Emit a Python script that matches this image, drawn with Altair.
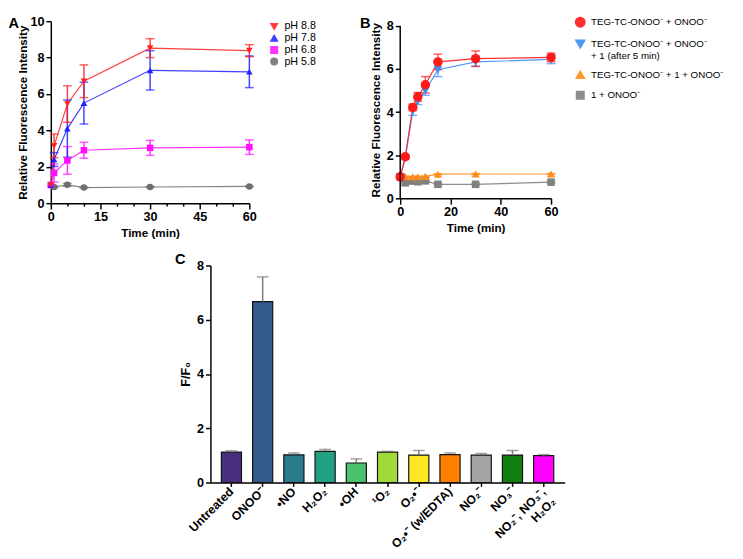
import altair as alt
import pandas as pd

FONT = "Liberation Sans"

# ---------------- Panel A data ----------------
a_time = [0, 1, 5, 10, 30, 60]
a_series = ["pH 8.8", "pH 7.8", "pH 6.8", "pH 5.8"]
a_ph88 = [1.00, 3.15, 5.45, 6.70, 8.52, 8.38]
a_ph88_sd = [0.00, 0.65, 1.00, 0.90, 0.52, 0.33]
a_ph78 = [1.00, 2.40, 4.10, 5.50, 7.30, 7.22]
a_ph78_sd = [0.00, 0.38, 1.57, 1.15, 1.08, 0.87]
a_ph68 = [1.00, 1.66, 2.35, 2.91, 3.04, 3.08]
a_ph68_sd = [0.00, 0.50, 0.76, 0.44, 0.41, 0.40]
a_ph58 = [1.00, 0.89, 1.01, 0.86, 0.89, 0.92]
a_ph58_sd = [0.00, 0.04, 0.08, 0.03, 0.03, 0.03]
a_colors = ["#FF1F1F", "#1F1FFF", "#FF10FF", "#6E6E6E"]
a_shapes = ["triangle-down", "triangle-up", "square", "circle"]

# ---------------- Panel B data ----------------
b_time = [0, 2, 5, 7, 10, 15, 30, 60]
b_series = [
    "TEG-TC-ONOO⁻  +  ONOO⁻",
    "TEG-TC-ONOO⁻  +  ONOO⁻\n+  1 (after 5 min)",
    "TEG-TC-ONOO⁻  +  1  +  ONOO⁻",
    "1 + ONOO⁻",
]
b_red = [1.00, 1.93, 4.22, 4.71, 5.27, 6.33, 6.48, 6.54]
b_red_sd = [0.00, 0.05, 0.15, 0.20, 0.38, 0.36, 0.36, 0.20]
b_blue = [1.00, 1.85, 4.05, 4.50, 5.00, 5.97, 6.33, 6.45]
b_blue_sd = [0.00, 0.05, 0.20, 0.15, 0.22, 0.32, 0.20, 0.20]
b_orange = [1.00, 1.02, 1.00, 1.00, 1.02, 1.12, 1.13, 1.13]
b_orange_sd = [0.00, 0.02, 0.02, 0.02, 0.02, 0.02, 0.02, 0.02]
b_gray = [1.00, 0.72, 0.80, 0.77, 0.81, 0.65, 0.65, 0.75]
b_gray_sd = [0.00, 0.05, 0.05, 0.05, 0.05, 0.03, 0.03, 0.05]
b_colors = ["#FF1A1A", "#3D8EF5", "#FF8C1A", "#808080"]
b_shapes = ["circle", "triangle-down", "triangle-up", "square"]
b_sizes = [95, 60, 70, 95]

# ---------------- Panel C data ----------------
c_labels = ["Untreated", "ONOO⁻", "•NO", "H₂O₂", "•OH", "¹O₂", "O₂•⁻",
            "O₂•⁻ (w/EDTA)", "NO₂⁻", "NO₃⁻", "NO₂⁻, NO₃⁻,\nH₂O₂"]
c_mean = [1.12, 6.67, 1.02, 1.15, 0.72, 1.12, 1.01, 1.03, 1.01, 1.01, 0.99]
c_err = [0.05, 0.91, 0.07, 0.07, 0.15, 0.03, 0.17, 0.06, 0.06, 0.17, 0.04]
c_colors = ["#472F7D", "#355A8C", "#287C8E", "#21A285", "#4BC16D", "#A0DA39",
            "#FDE725", "#FF8000", "#A5A5A8", "#0F7F0F", "#FF00FF"]

panel_letters = ["A", "B", "C"]


def long_table(series, times, means, sds):
    rows = []
    for s, m_list, sd_list in zip(series, means, sds):
        for t, m, sd in zip(times, m_list, sd_list):
            rows.append({"series": s, "time": t, "mean": m, "lo": m - sd, "hi": m + sd})
    return pd.DataFrame(rows)


def letter_mark(letter, dx, dy):
    return alt.Chart(pd.DataFrame({"letter": [letter]})).mark_text(
        font=FONT, fontSize=15, fontWeight="bold", color="black",
        align="center", baseline="middle").encode(
        text="letter:N", x=alt.value(dx), y=alt.value(dy))


def indep(c):
    return c.resolve_scale(color="independent", shape="independent", size="independent",
                           x="independent", y="independent")


# ================= Panel A =================
a_df = long_table(a_series[::-1], a_time,
                  [a_ph58, a_ph68, a_ph78, a_ph88],
                  [a_ph58_sd, a_ph68_sd, a_ph78_sd, a_ph88_sd])

a_x = alt.X("time:Q", scale=alt.Scale(domain=[0, 60], nice=False),
            axis=alt.Axis(values=list(range(0, 61, 5)),
                          labelExpr="datum.value % 15 === 0 ? datum.label : ''",
                          tickSize={"condition": {"test": "datum.value % 15 === 0", "value": 6}, "value": 3},
                          labelOverlap=False, title="Time (min)", titlePadding=4))


def a_y(field):
    return alt.Y(field, scale=alt.Scale(domain=[0, 10], nice=False),
                 axis=alt.Axis(values=[0, 2, 4, 6, 8, 10],
                               title="Relative Fluorescence Intensity", titlePadding=1))


a_legend = alt.Legend(title=None, orient="none", legendX=224, legendY=0,
                      labelFontSize=11, labelFont=FONT, symbolSize=45,
                      rowPadding=-2, padding=0, labelOffset=5)
a_color = alt.Color("series:N", scale=alt.Scale(domain=a_series, range=a_colors), legend=a_legend)
a_shape = alt.Shape("series:N", scale=alt.Scale(domain=a_series, range=a_shapes), legend=a_legend)

a_base = alt.Chart(a_df)
a_err_base = a_base.transform_filter("datum.hi > datum.lo")
a_lines = a_base.mark_line(strokeWidth=1.2, opacity=0.85).encode(x=a_x, y=a_y("mean:Q"), color=a_color)
a_err = a_err_base.mark_rule(strokeWidth=1.5, opacity=0.85).encode(x=a_x, y=a_y("lo:Q"), y2="hi:Q", color=a_color)
a_cap_hi = a_err_base.mark_tick(orient="horizontal", size=9, thickness=1.5).encode(
    x=a_x, y=a_y("hi:Q"), color=a_color)
a_cap_lo = a_err_base.mark_tick(orient="horizontal", size=9, thickness=1.5).encode(
    x=a_x, y=a_y("lo:Q"), color=a_color)
a_pts = a_base.mark_point(filled=True, opacity=1, size=45).encode(
    x=a_x, y=a_y("mean:Q"), color=a_color, shape=a_shape)

chart_a = alt.layer(a_lines, a_err, a_cap_hi, a_cap_lo, a_pts,
                    letter_mark(panel_letters[0], -38, 2)).properties(width=204, height=187)

# ================= Panel B =================
b_df = long_table(b_series[::-1], b_time,
                  [b_gray, b_orange, b_blue, b_red],
                  [b_gray_sd, b_orange_sd, b_blue_sd, b_red_sd])

b_x = alt.X("time:Q", scale=alt.Scale(domain=[0, 60], nice=False),
            axis=alt.Axis(values=list(range(0, 61, 5)),
                          labelExpr="datum.value % 10 === 0 ? datum.label : ''",
                          tickSize={"condition": {"test": "datum.value % 10 === 0", "value": 6}, "value": 3},
                          labelOverlap=False, title="Time (min)", titlePadding=4))

b_ytop = 8.22  # a little headroom above the top tick (axis line itself stops at 8)


def b_y(field):
    return alt.Y(field, scale=alt.Scale(domain=[0, b_ytop], nice=False),
                 axis=alt.Axis(values=[0, 2, 4, 6, 8], domain=False,
                               title="Relative Fluorescence Intensity", titlePadding=4))


b_legend = alt.Legend(title=None, orient="none", legendX=179, legendY=-5,
                      labelFontSize=10, labelFont=FONT, symbolSize=90,
                      labelExpr="split(datum.label, '\\n')",
                      rowPadding=7, padding=0, labelOffset=5, labelLimit=300)
b_color = alt.Color("series:N", scale=alt.Scale(domain=b_series, range=b_colors), legend=b_legend)
b_shape = alt.Shape("series:N", scale=alt.Scale(domain=b_series, range=b_shapes), legend=b_legend)
b_size = alt.Size("series:N", scale=alt.Scale(domain=b_series, range=b_sizes), legend=None)

b_base = alt.Chart(b_df)
b_err_base = b_base.transform_filter("datum.hi > datum.lo")
b_axisline = alt.Chart(pd.DataFrame({"v": [0]})).mark_rule(color="black", strokeWidth=1.5).encode(
    x=alt.datum(0), y=alt.datum(0), y2=alt.datum(8))
b_lines = b_base.mark_line(strokeWidth=1.2, opacity=0.9).encode(x=b_x, y=b_y("mean:Q"), color=b_color)
b_err = b_err_base.mark_rule(strokeWidth=1.5, opacity=0.7).encode(x=b_x, y=b_y("lo:Q"), y2="hi:Q", color=b_color)
b_cap_hi = b_err_base.mark_tick(orient="horizontal", size=9, thickness=1.5, opacity=0.7).encode(
    x=b_x, y=b_y("hi:Q"), color=b_color)
b_cap_lo = b_err_base.mark_tick(orient="horizontal", size=9, thickness=1.5, opacity=0.7).encode(
    x=b_x, y=b_y("lo:Q"), color=b_color)
b_pts = b_base.mark_point(filled=True, opacity=1).encode(
    x=b_x, y=b_y("mean:Q"), color=b_color, shape=b_shape, size=b_size)

chart_b = alt.layer(b_lines, b_err, b_cap_hi, b_cap_lo, b_pts, b_axisline,
                    letter_mark(panel_letters[1], -36, 2)).properties(width=155, height=182)

# ================= Panel C =================
c_df = pd.DataFrame({"cat": c_labels, "mean": c_mean,
                     "top": [m + e for m, e in zip(c_mean, c_err)]})

c_x = alt.X("cat:N", sort=c_labels,
            scale=alt.Scale(paddingInner=0.355, paddingOuter=0.35),
            axis=alt.Axis(title=None, labelAngle=315, labelAlign="right",
                          labelBaseline="middle", labelExpr="split(datum.label, '\\n')",
                          tickSize=4, labelPadding=3, labelFontSize=12.5))


def c_y(field):
    return alt.Y(field, scale=alt.Scale(domain=[0, 8], nice=False),
                 axis=alt.Axis(values=[0, 2, 4, 6, 8], title="F/F₀", titlePadding=4,
                               titleFontSize=13))


c_base = alt.Chart(c_df)
c_bars = c_base.mark_bar(stroke="#111111", strokeWidth=1.2).encode(
    x=c_x, y=c_y("mean:Q"),
    color=alt.Color("cat:N", scale=alt.Scale(domain=c_labels, range=c_colors), legend=None))
c_err = c_base.mark_rule(color="#7A7A7A", strokeWidth=1.5).encode(x=c_x, y=c_y("mean:Q"), y2="top:Q")
c_cap = c_base.mark_tick(orient="horizontal", size=12, thickness=1.5, color="#7A7A7A").encode(
    x=c_x, y=c_y("top:Q"))

chart_c = alt.layer(c_bars, c_err, c_cap,
                    letter_mark(panel_letters[2], -31, -7)).properties(width=364, height=223)

spacer = alt.Chart(pd.DataFrame({"v": [0]})).mark_point(opacity=0).encode(
    x=alt.value(0), y=alt.value(0)).properties(width=127, height=10)

top_row = indep(alt.hconcat(chart_a, chart_b, spacing=44))
bottom_row = indep(alt.hconcat(spacer, chart_c, spacing=0))

chart = indep(alt.vconcat(top_row, bottom_row, spacing=14)).properties(
    padding=0
).configure_view(stroke=None).configure_axis(
    domainColor="black", domainWidth=1.5, tickColor="black", tickWidth=1.5,
    tickSize=5, labelColor="black", labelFont=FONT, labelFontWeight="bold",
    labelFontSize=13, labelPadding=2, labelFlush=False, titleColor="black",
    titleFont=FONT, titleFontWeight="bold", titleFontSize=12, grid=False
).configure_legend(labelColor="black")

chart.save("out.html", embed_options={"renderer": "svg", "actions": False})
